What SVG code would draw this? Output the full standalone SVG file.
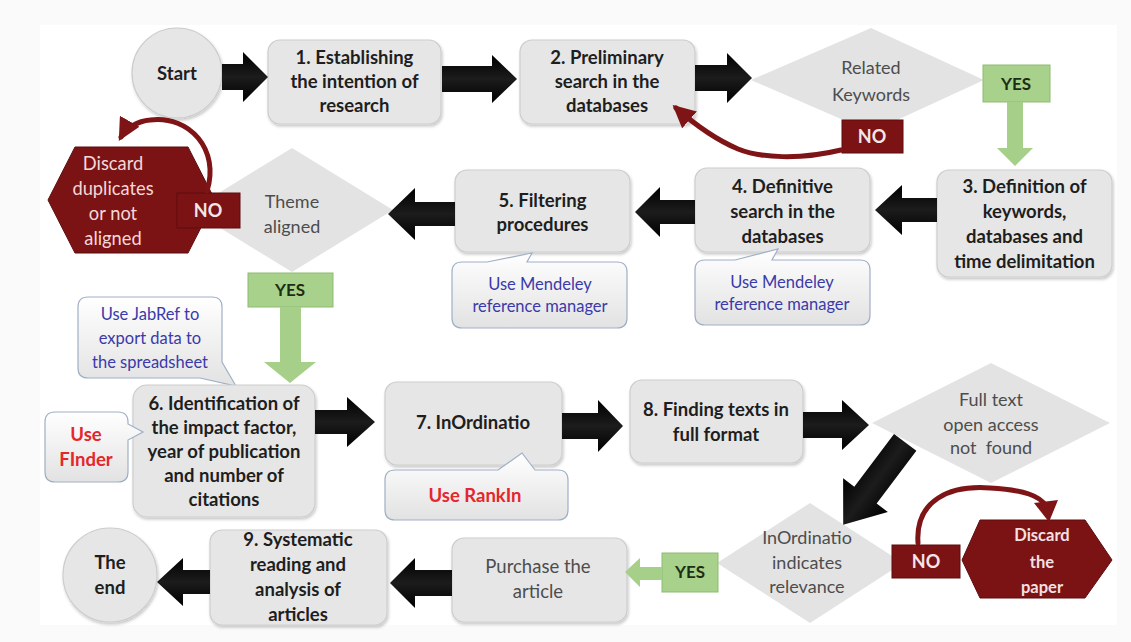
<svg xmlns="http://www.w3.org/2000/svg" width="1131" height="642" viewBox="0 0 1131 642">
<defs>
<style>
text{font-family:Lato,"Liberation Sans",sans-serif;text-anchor:middle}
.box{fill:#e6e6e6;stroke:#cdcdcd;stroke-width:1.2;filter:url(#sh)}
.dia{fill:#e3e3e3}
.bt{font-size:18.5px;font-weight:bold;fill:#1e1e1e}
.dt{font-size:18px;fill:#4d4d4d}
.pt{font-size:18.5px;fill:#4d4d4d}
.ct{font-size:16.5px;fill:#3a3aaa}
.rt{font-size:18.5px;font-weight:bold;fill:#e5262b}
.red{fill:#7b1315;stroke:#5e0d0e;stroke-width:1}
.wt{font-size:18.3px;fill:#f6d8d8}
.nt{font-size:18px;font-weight:bold;fill:#f4e6e6}
.dp{font-size:16.5px;font-weight:bold;fill:#f4e0e0}
.grn{fill:#a8d18c;stroke:#8dbb72;stroke-width:1}
.yt{font-size:17px;font-weight:bold;fill:#1d2e17}
.blk{fill:url(#bg)}
.gar{fill:#a6cf8a}
.call{fill:url(#cg);stroke:#9fb0c6;stroke-width:1.2}
.arc{fill:none;stroke:#7e1416;stroke-width:5;stroke-linecap:round}
.ah{fill:#7e1416}
</style>
<filter id="sh" x="-10%" y="-10%" width="130%" height="130%"><feDropShadow dx="1" dy="2" stdDeviation="1.5" flood-color="#000" flood-opacity="0.22"/></filter>
<linearGradient id="bg" x1="0" y1="0" x2="0" y2="1"><stop offset="0" stop-color="#000"/><stop offset="0.5" stop-color="#1c1c1c"/><stop offset="1" stop-color="#000"/></linearGradient>
<linearGradient id="cg" x1="0" y1="0" x2="0" y2="1"><stop offset="0" stop-color="#ffffff"/><stop offset="1" stop-color="#e2e2e2"/></linearGradient>
<marker id="rh" viewBox="0 0 10 10" markerWidth="4.5" markerHeight="4.5" refX="8" refY="5" orient="auto" markerUnits="strokeWidth"><path d="M0,0 L10,5 L0,10 z" fill="#7e1416"/></marker>
</defs>
<rect width="1131" height="642" fill="#fafafa"/>
<rect x="40" y="25" width="1077" height="600" fill="#ffffff"/>

<g id="start"><circle cx="177" cy="73" r="45" class="box"/><text class="bt" x="177" y="80">Start</text></g>

<g id="step1"><rect class="box" x="268" y="40" width="173" height="84" rx="12"/>
<text class="bt" x="354.5" y="64">1. Establishing</text><text class="bt" x="354.5" y="88">the intention of</text><text class="bt" x="354.5" y="112">research</text></g>

<g id="step2"><rect class="box" x="520" y="40" width="175" height="84" rx="12"/>
<text class="bt" x="607" y="64">2. Preliminary</text><text class="bt" x="607" y="88">search in the</text><text class="bt" x="607" y="112">databases</text></g>

<g id="related"><polygon class="dia" points="751,80 871,28 984,80 871,132"/>
<text class="dt" x="871" y="74">Related</text><text class="dt" x="871" y="101">Keywords</text></g>
<g id="related-yes"><rect class="grn" x="983" y="65" width="67" height="37"/><text class="yt" x="1016" y="90">YES</text></g>
<g id="related-no"><rect class="red" x="842" y="120" width="61" height="33"/><text class="nt" x="872" y="143">NO</text></g>

<g id="step3"><rect class="box" x="937" y="170" width="175" height="107" rx="12"/>
<text class="bt" x="1024.5" y="193">3. Definition of</text><text class="bt" x="1024.5" y="218">keywords,</text><text class="bt" x="1024.5" y="243">databases and</text><text class="bt" x="1024.5" y="268">time delimitation</text></g>

<g id="step4"><rect class="box" x="695" y="168" width="175" height="84" rx="12"/>
<text class="bt" x="782.5" y="193">4. Definitive</text><text class="bt" x="782.5" y="218">search in the</text><text class="bt" x="782.5" y="243">databases</text></g>
<g id="note4"><path class="call" d="M705,260 L735,260 L778,249 L772,260 L860,260 Q870,260 870,270 L870,315 Q870,325 860,325 L705,325 Q695,325 695,315 L695,270 Q695,260 705,260 Z"/>
<text class="ct" x="782" y="288">Use Mendeley</text><text class="ct" x="782" y="310">reference manager</text></g>

<g id="step5"><rect class="box" x="455" y="170" width="175" height="82" rx="12"/>
<text class="bt" x="542.5" y="207">5. Filtering</text><text class="bt" x="542.5" y="231">procedures</text></g>
<g id="note5"><path class="call" d="M462,262 L487,262 L532,253 L527,262 L617,262 Q627,262 627,272 L627,318 Q627,328 617,328 L462,328 Q452,328 452,318 L452,272 Q452,262 462,262 Z"/>
<text class="ct" x="540" y="290">Use Mendeley</text><text class="ct" x="540" y="312">reference manager</text></g>

<g id="theme"><polygon class="dia" points="191,210 292,148 393,210 292,272"/>
<text class="dt" x="292" y="208">Theme</text><text class="dt" x="292" y="233">aligned</text></g>
<g id="discard1"><polygon class="red" points="48,200 75,147 188,147 215,200 188,253 75,253"/>
<text class="wt" x="113" y="170">Discard</text><text class="wt" x="113" y="195">duplicates</text><text class="wt" x="113" y="220">or not</text><text class="wt" x="113" y="245">aligned</text></g>
<g id="theme-no"><rect class="red" x="177" y="193" width="63" height="35"/><text class="nt" x="208" y="217">NO</text></g>
<g id="theme-yes"><rect class="grn" x="248" y="273" width="85" height="34"/><text class="yt" x="290" y="296">YES</text></g>

<g id="note-jabref"><path class="call" d="M88,297 L212,297 Q222,297 222,307 L222,362 L236,386 L200,378 L88,378 Q78,378 78,368 L78,307 Q78,297 88,297 Z"/>
<text class="ct" x="150" y="320">Use JabRef to</text><text class="ct" x="150" y="344">export data to</text><text class="ct" x="150" y="368">the spreadsheet</text></g>

<g id="step6"><rect class="box" x="133" y="385" width="182" height="132" rx="14"/>
<text class="bt" x="224" y="410">6. Identification of</text><text class="bt" x="224" y="434">the impact factor,</text><text class="bt" x="224" y="458">year of publication</text><text class="bt" x="224" y="482">and number of</text><text class="bt" x="224" y="506">citations</text></g>
<g id="note-finder"><path class="call" d="M55,412 L118,412 Q128,412 128,422 L128,424 L143,432 L128,440 L128,472 Q128,482 118,482 L55,482 Q45,482 45,472 L45,422 Q45,412 55,412 Z"/>
<text class="rt" x="86" y="441">Use</text><text class="rt" x="86" y="466">FInder</text></g>

<g id="step7"><rect class="box" x="385" y="382" width="177" height="83" rx="12"/>
<text class="bt" x="473" y="429">7. InOrdinatio</text></g>
<g id="note-rankin"><path class="call" d="M395,470 L498,470 L522,453 L535,470 L558,470 Q568,470 568,480 L568,510 Q568,520 558,520 L395,520 Q385,520 385,510 L385,480 Q385,470 395,470 Z"/>
<text class="rt" x="475" y="502">Use RankIn</text></g>

<g id="step8"><rect class="box" x="630" y="380" width="173" height="83" rx="12"/>
<text class="bt" x="716" y="416">8. Finding texts in</text><text class="bt" x="716" y="441">full format</text></g>

<g id="fulltext"><polygon class="dia" points="872,423 991,363 1110,423 991,483"/>
<text class="dt" x="991" y="406">Full text</text><text class="dt" x="991" y="431">open access</text><text class="dt" x="991" y="454" xml:space="preserve">not  found</text></g>

<g id="relevance"><polygon class="dia" points="717,563 810,503 903,563 810,623"/>
<text class="dt" x="807" y="544">InOrdinatio</text><text class="dt" x="807" y="569">indicates</text><text class="dt" x="807" y="593">relevance</text></g>
<g id="discard2"><polygon class="red" points="962,560 980,520 1085,520 1112,560 1085,598 980,598"/>
<text class="dp" x="1042" y="541">Discard</text><text class="dp" x="1042" y="568">the</text><text class="dp" x="1042" y="593">paper</text></g>
<g id="relevance-no"><rect class="red" x="892" y="545" width="68" height="33"/><text class="nt" x="926" y="568">NO</text></g>
<g id="relevance-yes"><rect class="grn" x="662" y="553" width="56" height="39"/><text class="yt" x="690" y="578">YES</text></g>

<g id="purchase"><rect class="box" x="452" y="538" width="175" height="84" rx="12"/>
<text class="pt" x="538" y="573">Purchase the</text><text class="pt" x="538" y="598">article</text></g>

<g id="step9"><rect class="box" x="210" y="530" width="177" height="95" rx="12"/>
<text class="bt" x="298" y="546">9. Systematic</text><text class="bt" x="298" y="571">reading and</text><text class="bt" x="298" y="596">analysis of</text><text class="bt" x="298" y="621">articles</text></g>

<g id="end"><circle cx="110" cy="575" r="47" class="box"/>
<text class="bt" x="110" y="569">The</text><text class="bt" x="110" y="594">end</text></g>

<g id="connectors">
<polygon class="blk" points="222,64 243,64 243,52 268,77 243,102 243,90 222,90"/>
<polygon class="blk" points="442,66 492,66 492,55 517,79 492,103 492,92 442,92"/>
<polygon class="blk" points="695,65 727,65 727,53 752,78 727,103 727,91 695,91"/>
<polygon class="blk" points="937,198 902,198 902,185 875,210 902,235 902,222 937,222"/>
<polygon class="blk" points="695,200 660,200 660,187 635,212 660,237 660,224 695,224"/>
<polygon class="blk" points="455,202 415,202 415,188 388,214 415,240 415,226 455,226"/>
<polygon class="blk" points="315,410 347,410 347,397 375,422 347,447 347,434 315,434"/>
<polygon class="blk" points="562,413 598,413 598,400 623,426 598,452 598,439 562,439"/>
<polygon class="blk" points="803,412 842,412 842,400 869,425 842,450 842,438 803,438"/>
<polygon class="blk" points="452,570 415,570 415,558 390,583 415,608 415,596 452,596"/>
<polygon class="blk" points="210,570 183,570 183,558 157,582 183,606 183,594 210,594"/>
<polygon class="blk" transform="translate(907,440) rotate(127)" points="3,-14 69,-14 69,-28 106,0 69,28 69,14 3,14"/>
<polygon class="gar" points="1007,102 1023,102 1023,148 1033,148 1015,166 997,148 1007,148"/>
<polygon class="gar" points="280,307 301,307 301,362 316,362 290,383 264,362 280,362"/>
<polygon class="gar" points="662,567 640,567 640,558 625,572 640,587 640,580 662,580"/>
<path class="arc" d="M841,150 C800,160 760,158 738,149 C712,138 692,122 676,108" marker-end="url(#rh)"/>
<path class="arc" d="M207,191 C220,150 190,115 150,120 C138,121 126,128 121,137" marker-end="url(#rh)"/>
<path class="arc" d="M918,543 C915,500 950,485 990,488 C1025,490 1040,496 1046,506"/>
<polygon class="ah" points="1034,503 1058,500 1049,522"/>
</g>
</svg>
